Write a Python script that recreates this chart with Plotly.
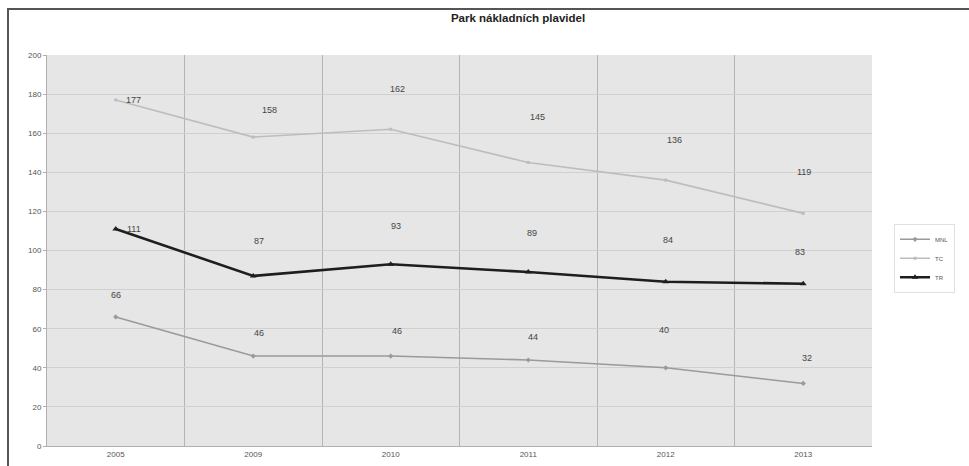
import plotly.graph_objects as go

years = ["2005", "2009", "2010", "2011", "2012", "2013"]
mnl = [66, 46, 46, 44, 40, 32]
tc = [177, 158, 162, 145, 136, 119]
tr = [111, 87, 93, 89, 84, 83]

series = [
    ("MNL", mnl, "#9a9a9a", 1.6, "diamond", 4),
    ("TC", tc, "#bdbdbd", 1.6, "square", 3),
    ("TR", tr, "#1e1e1e", 2.6, "triangle-up", 6),
]

# label pixel shifts (dx, dy) per point, per series
label_shift = {
    "MNL": [(0, 22), (6, 23), (6, 25), (5, 23), (-2, 38), (4, 25)],
    "TC": [(18, 0), (16, 27), (7, 40), (9, 46), (9, 40), (1, 41)],
    "TR": [(18, 0), (6, 35), (5, 38), (4, 39), (2, 42), (-3, 32)],
}

fig = go.Figure()
annotations = []
for name, vals, color, width, sym, msize in series:
    fig.add_trace(go.Scatter(
        x=years, y=vals, name=name, mode="lines+markers",
        line=dict(color=color, width=width),
        marker=dict(symbol=sym, size=msize, color=color),
    ))
    for i, v in enumerate(vals):
        dx, dy = label_shift[name][i]
        annotations.append(dict(
            x=i, y=v, text=str(v), showarrow=False, xref="x", yref="y",
            xshift=dx, yshift=dy,
            font=dict(family="Liberation Sans, Arial", size=9, color="#444444"),
        ))

top = (446 - 9) / 391
left = -39 / 825
frame = [
    dict(type="rect", xref="paper", yref="paper", x0=left, x1=1.3, y0=-0.2, y1=top,
         line=dict(color="#555555", width=2), fillcolor="rgba(0,0,0,0)", layer="below"),
]

fig.update_layout(
    width=969, height=466,
    margin=dict(l=47, r=97, t=55, b=20),
    paper_bgcolor="white",
    plot_bgcolor="#e6e6e6",
    title=dict(text="<b>Park nákladních plavidel</b>", x=518 / 969, xanchor="center",
               y=1 - 18 / 466, yanchor="middle",
               font=dict(family="Liberation Sans, Arial", size=11.5, color="#222222")),
    xaxis=dict(
        type="category", range=[-0.5, 5.5], tickson="boundaries",
        showgrid=True, gridcolor="#b4b4b4", gridwidth=1,
        showline=True, linecolor="#b0b0b0", ticks="outside", ticklen=4,
        tickcolor="rgba(0,0,0,0)",
        tickfont=dict(family="Liberation Sans, Arial", size=8, color="#555555"),
        zeroline=False, automargin=False,
    ),
    yaxis=dict(
        range=[0, 200], dtick=20, showgrid=True, gridcolor="#d0d0d0",
        showline=True, linecolor="#b0b0b0", ticks="outside", ticklen=3, tickcolor="#b0b0b0",
        tickfont=dict(family="Liberation Sans, Arial", size=8, color="#555555"),
        zeroline=False, automargin=False,
    ),
    legend=dict(x=(955 - 47) / 825, y=0.48, xanchor="right", yanchor="middle",
                bgcolor="white", bordercolor="#e0e0e0", borderwidth=1,
                font=dict(family="Liberation Sans, Arial", size=6, color="#555555"),
                itemwidth=30, tracegroupgap=0),
    annotations=annotations,
    shapes=frame,
    showlegend=True,
)

fig.write_html("out.html")
